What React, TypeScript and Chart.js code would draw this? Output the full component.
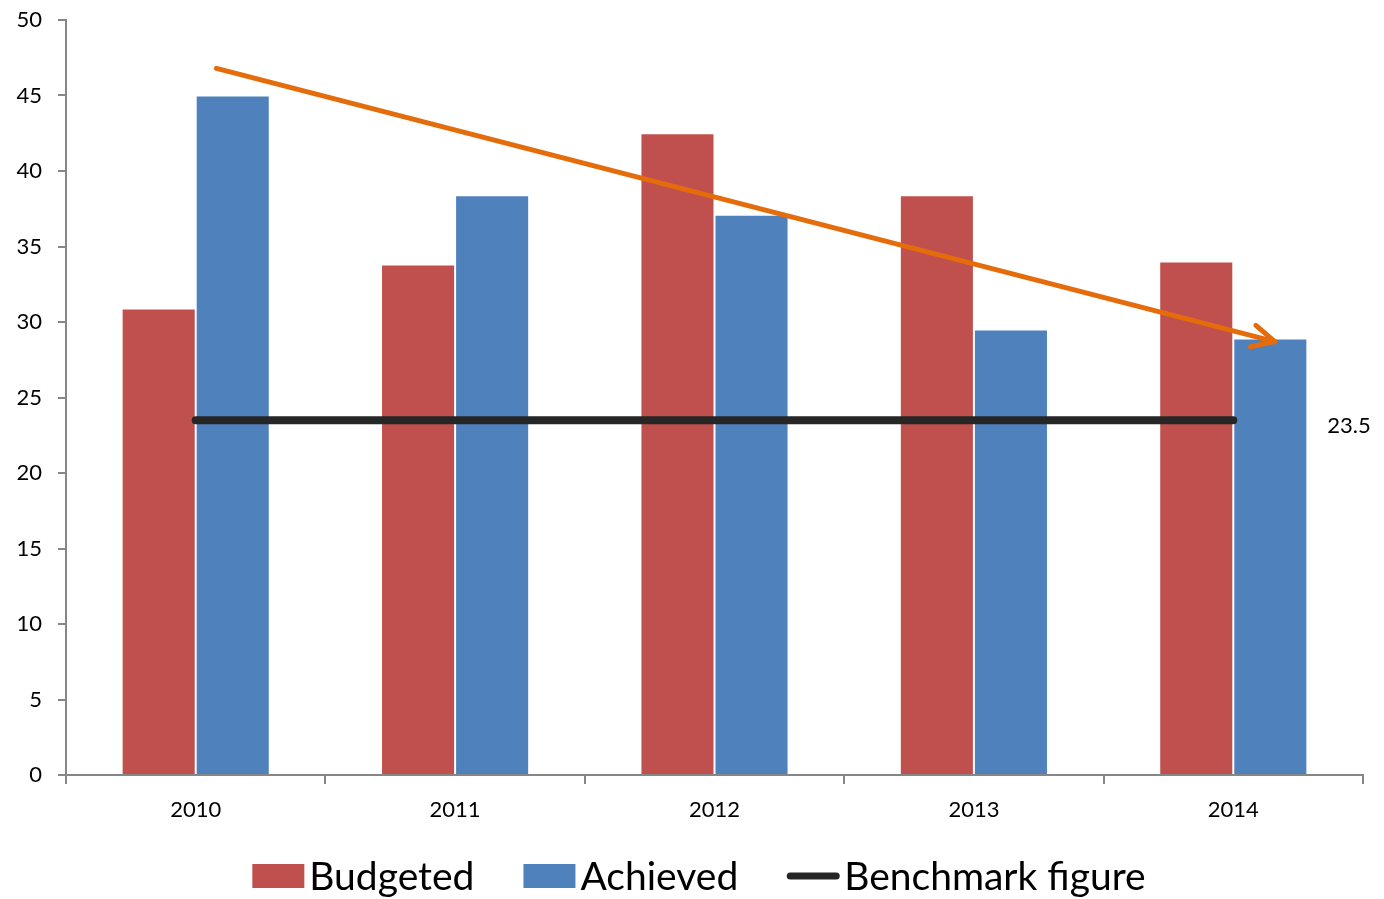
import React, { useEffect, useRef } from 'react';
import { Chart, registerables } from 'chart.js';

Chart.register(...registerables);

const years = ['2010', '2011', '2012', '2013', '2014'];
const budgeted = [30.9, 33.8, 42.5, 38.4, 34.0];
const achieved = [45.0, 38.4, 37.1, 29.5, 28.9];
const benchmark = [23.5, 23.5, 23.5, 23.5, 23.5];
const trendX = [0.08, 4.16];
const trendY = [46.8, 28.7];
const benchmarkLabel = '23.5';

const RED = '#C0504D';
const BLUE = '#4F81BD';
const DARK = '#262626';
const ORANGE = '#E46C0A';
const AXIS = '#868686';
const FONT = 'Lato';

const overlayPlugin = {
  id: 'overlay',
  afterDatasetsDraw(chart: any) {
    const ctx = chart.ctx;
    const meta = chart.getDatasetMeta(0);
    const pts = meta.data;
    if (pts.length >= 2) {
      const p1 = pts[pts.length - 2];
      const p2 = pts[pts.length - 1];
      const ang = Math.atan2(p2.y - p1.y, p2.x - p1.x);
      const len = 25;
      const spread = 0.46;
      ctx.save();
      ctx.strokeStyle = ORANGE;
      ctx.lineWidth = 5;
      ctx.lineCap = 'round';
      ctx.lineJoin = 'round';
      ctx.beginPath();
      ctx.moveTo(p2.x - len * Math.cos(ang - spread), p2.y - len * Math.sin(ang - spread));
      ctx.lineTo(p2.x, p2.y);
      ctx.lineTo(p2.x - len * Math.cos(ang + spread), p2.y - len * Math.sin(ang + spread));
      ctx.stroke();
      ctx.restore();
    }
    const bm = chart.getDatasetMeta(1).data;
    const last = bm[bm.length - 1];
    if (last) {
      ctx.save();
      ctx.fillStyle = '#000';
      ctx.font = `22px ${FONT}`;
      ctx.textAlign = 'left';
      ctx.textBaseline = 'middle';
      ctx.fillText(benchmarkLabel, last.x + 94, last.y + 6);
      ctx.restore();
    }
  },
  afterDraw(chart: any) {
    const ctx = chart.ctx;
    const items = [
      { text: 'Budgeted', kind: 'box', color: RED },
      { text: 'Achieved', kind: 'box', color: BLUE },
      { text: 'Benchmark figure', kind: 'line', color: DARK },
    ];
    ctx.save();
    ctx.font = `39px ${FONT}`;
    const boxW = 52;
    const boxH = 24;
    const gapText = 5;
    const gapItem = 49;
    const widths = items.map((it) => boxW + gapText + ctx.measureText(it.text).width);
    const total = widths.reduce((a, b) => a + b, 0) + gapItem * (items.length - 1);
    let x = chart.width / 2 + 7 - total / 2;
    const cy = 876;
    items.forEach((it, i) => {
      if (it.kind === 'box') {
        ctx.fillStyle = it.color;
        ctx.fillRect(x, cy - boxH / 2, boxW, boxH);
      } else {
        ctx.strokeStyle = it.color;
        ctx.lineWidth = 7;
        ctx.lineCap = 'round';
        ctx.beginPath();
        ctx.moveTo(x + 3, cy);
        ctx.lineTo(x + boxW - 3, cy);
        ctx.stroke();
      }
      ctx.fillStyle = '#000';
      ctx.textAlign = 'left';
      ctx.textBaseline = 'middle';
      ctx.fillText(it.text, x + boxW + gapText, cy + 1);
      x += widths[i] + gapItem;
    });
    ctx.restore();
  },
};

export default function App() {
  const ref = useRef<HTMLCanvasElement | null>(null);

  useEffect(() => {
    if (!ref.current) return;
    const chart = new Chart(ref.current, {
      type: 'bar',
      data: {
        labels: years,
        datasets: [
          {
            type: 'line',
            label: 'Trend',
            data: trendX.map((x, i) => ({ x, y: trendY[i] })),
            parsing: false,
            normalized: true,
            borderColor: ORANGE,
            borderWidth: 5,
            pointRadius: 0,
            borderCapStyle: 'round',
          } as any,
          {
            type: 'line',
            label: 'Benchmark figure',
            data: benchmark,
            borderColor: DARK,
            backgroundColor: DARK,
            borderWidth: 8,
            pointRadius: 0,
            borderCapStyle: 'round',
          } as any,
          {
            type: 'bar',
            label: 'Budgeted',
            data: budgeted,
            backgroundColor: RED,
            borderColor: 'rgba(255,255,255,0.2)',
            borderWidth: 1,
          } as any,
          {
            type: 'bar',
            label: 'Achieved',
            data: achieved,
            backgroundColor: BLUE,
            borderColor: 'rgba(255,255,255,0.2)',
            borderWidth: 1,
          } as any,
        ],
      },
      options: {
        animation: false,
        responsive: true,
        maintainAspectRatio: false,
        datasets: {
          bar: { categoryPercentage: 0.571, barPercentage: 1.0 },
        },
        layout: { padding: { top: 20, right: 21, left: 0, bottom: 0 } },
        plugins: {
          legend: { display: false },
          tooltip: { enabled: false },
        },
        scales: {
          x: {
            type: 'category',
            grid: {
              display: true,
              drawOnChartArea: false,
              drawTicks: true,
              tickLength: 9,
              color: AXIS,
              lineWidth: 2,
              offset: true,
            },
            border: { color: AXIS, width: 2 },
            ticks: { color: '#000', font: { family: FONT, size: 22 }, padding: 13 },
            afterFit(scale: any) {
              scale.height = 124;
            },
          },
          y: {
            min: 0,
            max: 50,
            ticks: { stepSize: 5, color: '#000', font: { family: FONT, size: 22 }, padding: 16 },
            grid: {
              display: true,
              drawOnChartArea: false,
              drawTicks: true,
              tickLength: 8,
              color: AXIS,
              lineWidth: 2,
            },
            border: { color: AXIS, width: 2 },
            afterFit(scale: any) {
              scale.width = 66;
              scale.paddingTop = 0;
              scale.paddingBottom = 0;
            },
          },
        },
      } as any,
      plugins: [overlayPlugin],
    });
    return () => chart.destroy();
  }, []);

  return (
    <div style={{ position: 'absolute', left: 0, top: 0, width: 1384, height: 899, background: '#fff' }}>
      <canvas ref={ref} />
    </div>
  );
}
